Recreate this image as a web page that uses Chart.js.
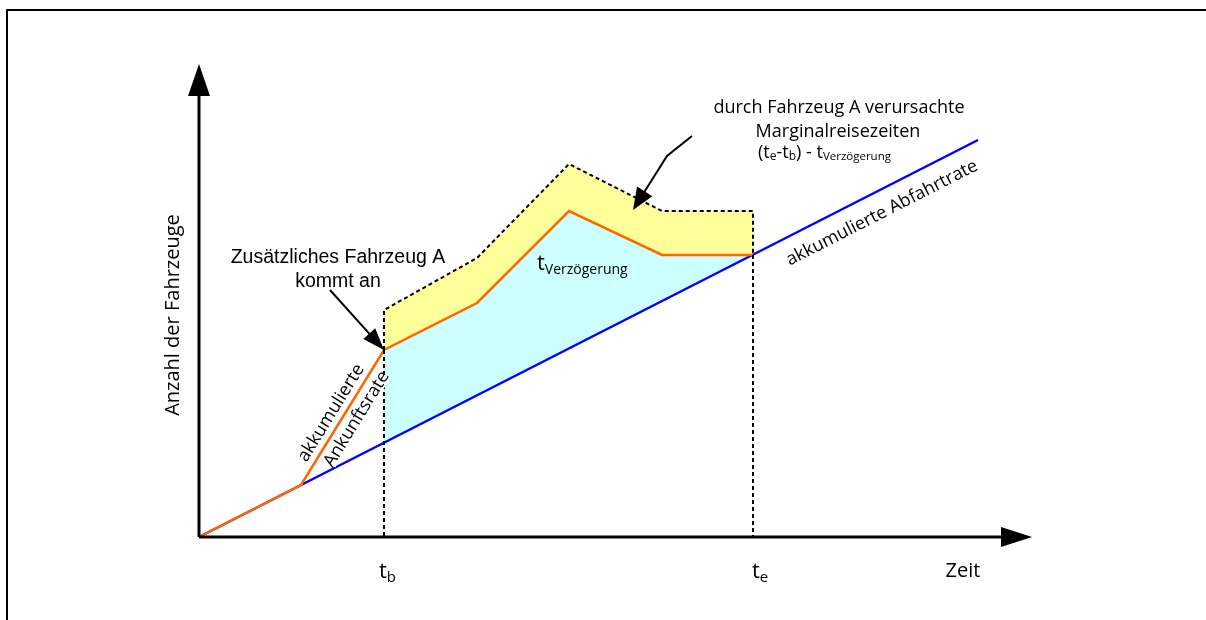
<!DOCTYPE html>
<html>
<head>
<meta charset="utf-8">
<script src="https://cdn.jsdelivr.net/npm/chart.js@4/dist/chart.umd.min.js"></script>
<style>
  html, body { margin: 0; padding: 0; background: #fff; }
  #wrap { position: relative; width: 1206px; height: 620px; }
  #frame { position: absolute; left: 6px; top: 9px; width: 1200px; height: 611px;
           border-left: 2px solid #000; border-top: 2px solid #000; box-sizing: border-box; }
  canvas { position: absolute; left: 0; top: 0; }
</style>
</head>
<body>
<div id="wrap">
  <div id="frame"></div>
  <canvas id="c" width="1206" height="620"></canvas>
</div>
<script>
// ---- data (time units on x, vehicle count units on y) ----
const tB = 18.5;                  // t_b : arrival of vehicle A
const tE = 55.4;                  // t_e : end of delay
const arrivalX = [0, 10.2, 18.5, 27.8, 37.0, 46.3, 55.4];
const arrivalY = [0, 5.2, 18.7, 23.4, 32.6, 28.2, 28.2];
const marginalX = [18.5, 18.5, 27.8, 37.0, 46.3, 55.4, 55.4];
const marginalY = [18.7, 22.7, 27.9, 37.3, 32.6, 32.6, 28.2];
const departureX = [0, 77.9];
const departureY = [0, 39.7];
const axisEndX = 83.3;
const axisEndY = 47.3;
const tickLabels = ['t', 'b', 't', 'e'];

const departureSlope = departureY[1] / departureX[1];
const pts = (xs, ys) => xs.map((x, i) => ({ x: x, y: ys[i] }));

// cyan polygon: arrival curve between tB and tE, back along departure line
const cyanPoly = pts(arrivalX.slice(2), arrivalY.slice(2))
  .concat([{ x: tE, y: tE * departureSlope }, { x: tB, y: tB * departureSlope }]);
// yellow polygon: marginal curve, back along arrival curve
const yellowPoly = pts(marginalX.slice(1), marginalY.slice(1))
  .concat(pts(arrivalX.slice(2, 6), arrivalY.slice(2, 6)).reverse());

const annot = {
  id: 'annot',
  afterDatasetsDraw(chart) {
    const ctx = chart.ctx;
    const sx = chart.scales.x, sy = chart.scales.y;
    const px = v => sx.getPixelForValue(v);
    const py = v => sy.getPixelForValue(v);
    ctx.save();

    function head(x1, y1, x2, y2, len, hw) {
      const a = Math.atan2(y2 - y1, x2 - x1);
      ctx.beginPath();
      ctx.moveTo(x2, y2);
      ctx.lineTo(x2 - len * Math.cos(a) + hw * Math.sin(a), y2 - len * Math.sin(a) - hw * Math.cos(a));
      ctx.lineTo(x2 - len * Math.cos(a) - hw * Math.sin(a), y2 - len * Math.sin(a) + hw * Math.cos(a));
      ctx.closePath();
      ctx.fill();
    }
    function arrow(points, len, hw, lw) {
      ctx.strokeStyle = '#000'; ctx.fillStyle = '#000'; ctx.lineWidth = lw;
      const n = points.length;
      const x1 = points[n - 2][0], y1 = points[n - 2][1], x2 = points[n - 1][0], y2 = points[n - 1][1];
      const a = Math.atan2(y2 - y1, x2 - x1);
      ctx.beginPath();
      ctx.moveTo(points[0][0], points[0][1]);
      for (let i = 1; i < n - 1; i++) ctx.lineTo(points[i][0], points[i][1]);
      ctx.lineTo(x2 - (len - 2) * Math.cos(a), y2 - (len - 2) * Math.sin(a));
      ctx.stroke();
      head(x1, y1, x2, y2, len, hw);
    }

    // axes
    arrow([[px(0), py(0)], [px(0), py(axisEndY)]], 32, 11, 3);
    arrow([[px(0), py(0)], [px(axisEndX), py(0)]], 31, 10, 3);

    // annotation arrows
    arrow([[px(13.1), py(24.7)], [px(tB), py(arrivalY[2])]], 22, 8, 2);
    arrow([[px(49.3), py(40.1)], [px(46.8), py(38.1)], [px(43.4), py(32.7)]], 22, 9, 2);

    ctx.fillStyle = '#000';
    ctx.textBaseline = 'alphabetic';

    // y axis title
    ctx.save();
    ctx.translate(179, 315);
    ctx.rotate(-Math.PI / 2);
    ctx.font = '20px "Open Sans"';
    ctx.textAlign = 'center';
    ctx.fillText('Anzahl der Fahrzeuge', 0, 0);
    ctx.restore();

    // x axis title
    ctx.font = '20px "Open Sans"';
    ctx.textAlign = 'center';
    ctx.fillText('Zeit', 963, 577);

    function sub(x, y, main, s, f1, f2, dy) {
      ctx.textAlign = 'left';
      ctx.font = f1;
      ctx.fillText(main, x, y);
      const w = ctx.measureText(main).width;
      ctx.font = f2;
      ctx.fillText(s, x + w, y + dy);
      return w + ctx.measureText(s).width;
    }
    sub(px(tB) - 5, 578, tickLabels[0], tickLabels[1], '22px "Open Sans"', '15px "Open Sans"', 4);
    sub(px(tE) - 1, 578, tickLabels[2], tickLabels[3], '22px "Open Sans"', '15px "Open Sans"', 4);

    // vehicle A label
    ctx.font = '19.5px "Liberation Sans"';
    ctx.textAlign = 'center';
    ctx.fillText('Zusätzliches Fahrzeug A', 338, 263);
    ctx.fillText('kommt an', 338, 287);

    // marginal travel time label
    ctx.font = '18px "Open Sans"';
    ctx.fillText('durch Fahrzeug A verursachte', 839, 113);
    ctx.fillText('Marginalreisezeiten', 838, 137);
    {
      const x0 = 758, y0 = 158;
      let x = x0;
      const parts = [['(t', 18, 0], ['e', 12, 2], ['-t', 18, 0], ['b', 12, 2], [') - t', 18, 0], ['Verzögerung', 11.5, 2]];
      ctx.textAlign = 'left';
      parts.forEach(p => {
        ctx.font = p[1] + 'px "Open Sans"';
        ctx.fillText(p[0], x, y0 + p[2]);
        x += ctx.measureText(p[0]).width;
      });
    }

    // t_Verzögerung inside area
    sub(537, 270, 't', 'Verzögerung', '22px "Open Sans"', '14px "Open Sans"', 4);

    // departure rate label along blue line
    {
      const ang = Math.atan2(py(departureY[1]) - py(0), px(departureX[1]) - px(0));
      ctx.save();
      ctx.translate(882, 213);
      ctx.rotate(ang);
      ctx.font = '18px "Open Sans"';
      ctx.textAlign = 'center';
      ctx.textBaseline = 'middle';
      ctx.fillText('akkumulierte Abfahrtrate', 0, 0);
      ctx.restore();
    }

    // arrival rate label along orange segment
    {
      const xa = px(arrivalX[1]), ya = py(arrivalY[1]), xb = px(arrivalX[2]), yb = py(arrivalY[2]);
      const ang = Math.atan2(yb - ya, xb - xa);
      const mx = (xa + xb) / 2, my = (ya + yb) / 2;
      ctx.save();
      ctx.translate(mx, my);
      ctx.rotate(ang);
      ctx.font = '18px "Open Sans"';
      ctx.textAlign = 'center';
      ctx.textBaseline = 'middle';
      ctx.fillText('akkumulierte', -2, -12);
      const w = ctx.measureText('Ankunftsrate').width;
      ctx.fillStyle = '#fff';
      ctx.fillRect(6 - w / 2 + 2, 13 - 8, w - 4, 15);
      ctx.fillStyle = '#000';
      ctx.fillText('Ankunftsrate', 6, 13);
      ctx.restore();
    }
    ctx.restore();
  }
};

new Chart(document.getElementById('c'), {
  type: 'scatter',
  data: {
    datasets: [
      { data: pts(marginalX, marginalY), showLine: true, borderColor: '#000', borderWidth: 2,
        borderDash: [4, 3], pointRadius: 0, fill: false, order: 1 },
      { data: [{ x: tB, y: arrivalY[2] }, { x: tB, y: 0 }], showLine: true, borderColor: '#000', borderWidth: 2,
        borderDash: [4, 3], pointRadius: 0, fill: false, order: 1 },
      { data: [{ x: tE, y: arrivalY[6] }, { x: tE, y: 0 }], showLine: true, borderColor: '#000', borderWidth: 2,
        borderDash: [4, 3], pointRadius: 0, fill: false, order: 1 },
      { data: pts(arrivalX, arrivalY), showLine: true, borderColor: '#ff6600', borderWidth: 2.5,
        pointRadius: 0, fill: false, order: 2 },
      { data: pts(departureX, departureY), showLine: true, borderColor: '#0000ff', borderWidth: 2.5,
        pointRadius: 0, fill: false, order: 3 },
      { data: yellowPoly, showLine: true, borderWidth: 0, borderColor: 'rgba(0,0,0,0)',
        backgroundColor: '#ffff99', pointRadius: 0, fill: 'shape', order: 10 },
      { data: cyanPoly, showLine: true, borderWidth: 0, borderColor: 'rgba(0,0,0,0)',
        backgroundColor: '#ccffff', pointRadius: 0, fill: 'shape', order: 10 }
    ]
  },
  options: {
    responsive: false,
    animation: false,
    events: [],
    layout: { padding: 0 },
    plugins: { legend: { display: false }, tooltip: { enabled: false } },
    scales: {
      x: { type: 'linear', display: false, min: -19.9, max: 100.7 },
      y: { type: 'linear', display: false, min: -8.3, max: 53.7 }
    },
    elements: { line: { tension: 0 } }
  },
  plugins: [annot]
});
</script>
</body>
</html>
